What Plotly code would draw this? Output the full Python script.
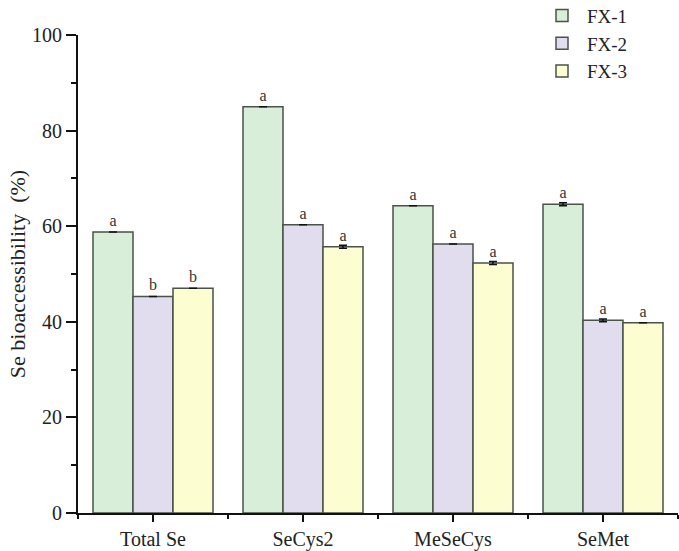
import plotly.graph_objects as go

categories = ["Total Se", "SeCys2", "MeSeCys", "SeMet"]
series_names = ["FX-1", "FX-2", "FX-3"]
fx1 = [58.8, 85.0, 64.3, 64.6]
fx2 = [45.3, 60.3, 56.3, 40.3]
fx3 = [47.0, 55.7, 52.3, 39.8]
fx1_err = [0.0, 0.0, 0.0, 0.3]
fx2_err = [0.0, 0.0, 0.0, 0.3]
fx3_err = [0.0, 0.3, 0.3, 0.0]
fx1_sig = ["a", "a", "a", "a"]
fx2_sig = ["b", "a", "a", "a"]
fx3_sig = ["b", "a", "a", "a"]

colors = ["#d8eed9", "#e1dcee", "#fdfdd2"]
FONT = "Liberation Serif, Times New Roman, serif"

x = list(range(len(categories)))
fig = go.Figure()
for name, vals, errs, sig, col in zip(series_names, [fx1, fx2, fx3], [fx1_err, fx2_err, fx3_err],
                                      [fx1_sig, fx2_sig, fx3_sig], colors):
    fig.add_trace(go.Bar(
        name=name, x=x, y=vals,
        marker=dict(color=col, line=dict(color="#4a524a", width=1.5)),
        error_y=dict(type="data", array=errs, color="#111", thickness=1.5, width=4),
        text=sig, textposition="outside", cliponaxis=False,
        textfont=dict(family=FONT, size=16, color="#333"),
        constraintext="none",
    ))

fig.update_layout(
    width=679, height=551,
    margin=dict(l=78, r=1, t=35, b=38, autoexpand=False),
    barmode="group", bargap=0.2, bargroupgap=0,
    plot_bgcolor="white", paper_bgcolor="white",
    font=dict(family=FONT, size=20, color="#222"),
    showlegend=True,
    legend=dict(x=0.765, y=1.08, xanchor="left", yanchor="top",
                font=dict(family=FONT, size=19, color="#222"),
                bgcolor="rgba(0,0,0,0)", tracegroupgap=0, itemwidth=40),
    xaxis=dict(
        range=[-0.5, 3.5], tickmode="array", tickvals=x, ticktext=categories,
        showline=True, linecolor="#111", linewidth=2,
        ticks="outside", ticklen=7, tickwidth=1.5, tickcolor="#111",
        minor=dict(tick0=0.5, dtick=1, ticks="outside", ticklen=4, tickwidth=1.5, tickcolor="#111"),
        showgrid=False, zeroline=False,
        tickfont=dict(family=FONT, size=20, color="#222"),
    ),
    yaxis=dict(
        range=[0, 100], tickmode="linear", tick0=0, dtick=20,
        showline=True, linecolor="#111", linewidth=2,
        ticks="outside", ticklen=10, tickwidth=1.5, tickcolor="#111",
        minor=dict(dtick=10, ticks="outside", ticklen=5, tickwidth=1.5, tickcolor="#111"),
        showgrid=False, zeroline=False,
        tickfont=dict(family=FONT, size=20, color="#222"),
        title=dict(text="Se bioaccessibility\u00a0 (%)", font=dict(family=FONT, size=22, color="#222"),
                   standoff=0),
    ),
)

fig.write_html("out.html", config={"displayModeBar": False},
               post_script="document.body.style.margin='0';")
